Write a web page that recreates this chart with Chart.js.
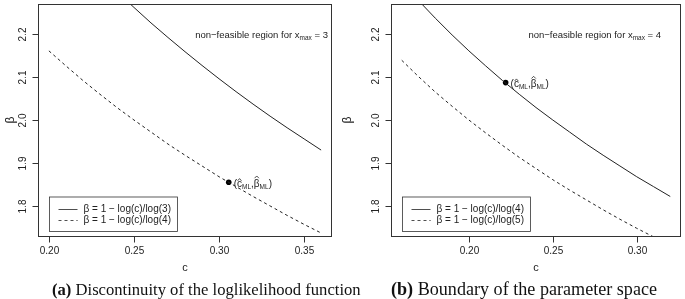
<!DOCTYPE html>
<html><head><meta charset="utf-8">
<script src="https://cdn.jsdelivr.net/npm/chart.js@4"></script>
<style>
html,body{margin:0;padding:0;background:#fff}
body{width:685px;height:299px;overflow:hidden;position:relative}
canvas{position:absolute;top:0}
#ca{left:0}
#cb{left:342px}
.cap{position:absolute;top:281px;font-family:"Liberation Serif","Times New Roman",serif;font-size:15px;color:#111;white-space:nowrap;line-height:17px}
.cap b{font-weight:bold}
</style></head><body>
<canvas id="ca" width="342" height="299"></canvas>
<canvas id="cb" width="343" height="299"></canvas>
<div class="cap" id="capA"><b>(a)</b> Discontinuity of the loglikelihood function</div>
<div class="cap" id="capB"><b>(b)</b> Boundary of the parameter space</div>
<script>
// ---------- data ----------
const cA = [0.20,0.21,0.22,0.23,0.24,0.25,0.26,0.27,0.28,0.29,0.30,0.31,0.32,0.33,0.34,0.35,0.36];
const betaLog3 = [2.465,2.421,2.378,2.338,2.299,2.262,2.226,2.192,2.159,2.127,2.096,2.066,2.037,2.009,1.982,1.956,1.930];
const betaLog4A = [2.161,2.126,2.092,2.060,2.029,2.000,1.972,1.944,1.918,1.893,1.868,1.845,1.822,1.800,1.778,1.757,1.737];
const cB = [0.16,0.17,0.18,0.19,0.20,0.21,0.22,0.23,0.24,0.25,0.26,0.27,0.28,0.29,0.30,0.31,0.32];
const betaLog4B = [2.322,2.278,2.237,2.198,2.161,2.126,2.092,2.060,2.029,2.000,1.972,1.944,1.918,1.893,1.868,1.845,1.822];
const betaLog5 = [2.139,2.101,2.065,2.032,2.000,1.970,1.941,1.913,1.887,1.861,1.837,1.814,1.791,1.769,1.748,1.728,1.708];
const mlPointA = [0.3057, 1.855];
const mlPointB = [0.2219, 2.087];
const xLimA = [0.1936, 0.3664];
const xLimB = [0.1536, 0.3264];
const yLim = [1.73, 2.27];
const xTicksA = [0.20, 0.25, 0.30, 0.35];
const xTicksB = [0.20, 0.25, 0.30];
const yTicks = [1.8, 1.9, 2.0, 2.1, 2.2];
const xTickLabelsA = ["0.20","0.25","0.30","0.35"];
const xTickLabelsB = ["0.20","0.25","0.30"];
const yTickLabels = ["1.8","1.9","2.0","2.1","2.2"];
const legendA = ["β = 1 − log(c)/log(3)", "β = 1 − log(c)/log(4)"];
const legendB = ["β = 1 − log(c)/log(4)", "β = 1 − log(c)/log(5)"];
const xmaxA = "3", xmaxB = "4";
const notePosA = [0.325, 2.2];
const notePosB = [0.275, 2.2];

// ---------- drawing helpers ----------
const SANS = '"Liberation Sans", Arial, Helvetica, sans-serif';
const INK = '#222';
function pts(xs, ys){ return xs.map((x,i)=>({x:x, y:ys[i]})); }

function drawNote(ctx, cx, cy, val){
  const parts = [
    {t:'non\u2212feasible region for x', f:9.5, dy:0},
    {t:'max', f:6.5, dy:2.5},
    {t:' = ' + val, f:9.5, dy:0}
  ];
  let w = 0;
  parts.forEach(p=>{ ctx.font = p.f+'px '+SANS; p.w = ctx.measureText(p.t).width; w += p.w; });
  let x = cx - w/2;
  ctx.textAlign='left'; ctx.textBaseline='alphabetic';
  parts.forEach(p=>{ ctx.font = p.f+'px '+SANS; ctx.fillText(p.t, x, cy+3.5+p.dy); x += p.w; });
}

function hat(ctx, x, w, topY){
  ctx.beginPath();
  ctx.moveTo(x + w*0.12, topY+2.2);
  ctx.lineTo(x + w*0.5, topY);
  ctx.lineTo(x + w*0.88, topY+2.2);
  ctx.lineWidth = 0.8; ctx.strokeStyle = INK; ctx.stroke();
}

function drawML(ctx, x, cy){
  const base = cy + 3.5;
  const parts = [
    {t:'(', f:10, dy:0},
    {t:'c', f:10, dy:0, hat:base-8.2},
    {t:'ML', f:6.5, dy:2},
    {t:',', f:10, dy:0},
    {t:'\u03B2', f:10, dy:0, hat:base-10.8},
    {t:'ML', f:6.5, dy:2},
    {t:')', f:10, dy:0}
  ];
  ctx.textAlign='left'; ctx.textBaseline='alphabetic';
  parts.forEach(p=>{
    ctx.font = p.f+'px '+SANS;
    const w = ctx.measureText(p.t).width;
    ctx.fillText(p.t, x, base+p.dy);
    if (p.hat !== undefined) hat(ctx, x, w, p.hat);
    x += w;
  });
}

function rPlugin(cfg){
  return {
    id:'rbase',
    afterDraw(chart){
      const ctx = chart.ctx, a = chart.chartArea;
      const xs = chart.scales.x, ys = chart.scales.y;
      ctx.save();
      ctx.fillStyle = INK; ctx.strokeStyle = '#333'; ctx.lineWidth = 1;
      const L = Math.round(a.left)+0.5, R = Math.round(a.right)-0.5;
      const T = Math.round(a.top)+0.5, B = Math.round(a.bottom)+0.5;
      // box
      ctx.strokeRect(L, T, R-L, B-T);
      // x axis ticks
      ctx.font = '10px '+SANS; ctx.textAlign='center'; ctx.textBaseline='middle';
      cfg.xTicks.forEach((v,i)=>{
        const px = Math.round(xs.getPixelForValue(v))+0.5;
        ctx.beginPath(); ctx.moveTo(px, B); ctx.lineTo(px, B+6); ctx.stroke();
        ctx.fillText(cfg.xLabels[i], px, B+15);
      });
      // y axis ticks
      cfg.yTicks.forEach((v,i)=>{
        const py = Math.round(ys.getPixelForValue(v))+0.5;
        ctx.beginPath(); ctx.moveTo(L-6, py); ctx.lineTo(L, py); ctx.stroke();
        ctx.save(); ctx.translate(L-15, py); ctx.rotate(-Math.PI/2);
        ctx.fillText(cfg.yLabels[i], 0, 0); ctx.restore();
      });
      // axis titles
      ctx.font = '11px '+SANS;
      ctx.fillText('c', (a.left+a.right)/2, 268);
      ctx.save(); ctx.translate(cfg.betaX, (a.top+a.bottom)/2); ctx.rotate(-Math.PI/2);
      ctx.font = '12px '+SANS; ctx.fillText('\u03B2', 0, 0); ctx.restore();
      // note
      drawNote(ctx, xs.getPixelForValue(cfg.note[0]), ys.getPixelForValue(cfg.note[1]), cfg.xmax);
      // ML label
      const mx = xs.getPixelForValue(cfg.ml[0]), my = ys.getPixelForValue(cfg.ml[1]);
      drawML(ctx, mx+5, my+1);
      // legend
      ctx.font = '10px '+SANS;
      const tw = Math.max(...cfg.legend.map(s=>ctx.measureText(s).width));
      const bl = Math.round(a.left)+11.5, bb = Math.round(a.bottom)-4.5, bh = 34.5;
      const bt = bb - bh;
      const tx = bl + 34;
      const br = Math.round(tx + tw + 6)+0.5;
      ctx.fillStyle = '#fff'; ctx.fillRect(bl, bt, br-bl, bh);
      ctx.strokeStyle = '#333'; ctx.strokeRect(bl, bt, br-bl, bh);
      ctx.fillStyle = INK; ctx.textAlign='left'; ctx.textBaseline='middle';
      cfg.legend.forEach((s,i)=>{
        const yy = Math.round(bt + 11.5 + i*11)+0.5;
        ctx.beginPath(); ctx.strokeStyle = INK;
        ctx.setLineDash(i===0 ? [] : [3,3]);
        ctx.moveTo(bl+9, yy); ctx.lineTo(bl+28, yy); ctx.stroke();
        ctx.setLineDash([]);
        ctx.fillText(s, tx, yy);
      });
      ctx.restore();
    }
  };
}

function makeChart(id, d){
  return new Chart(document.getElementById(id), {
    type:'scatter',
    data:{datasets:[
      {label:d.legend[0], data:d.solid, showLine:true, borderColor:INK, borderWidth:1, pointRadius:0, fill:false},
      {label:d.legend[1], data:d.dashed, showLine:true, borderColor:INK, borderWidth:1, borderDash:[3,3], pointRadius:0, fill:false},
      {label:'ML', data:[{x:d.ml[0], y:d.ml[1]}], pointRadius:2.8, pointBackgroundColor:'#000', pointBorderWidth:0, showLine:false}
    ]},
    options:{
      responsive:false, animation:false, events:[],
      layout:{padding:d.pad},
      plugins:{legend:{display:false}, tooltip:{enabled:false}},
      scales:{
        x:{type:'linear', min:d.xLim[0], max:d.xLim[1], display:false},
        y:{type:'linear', min:yLim[0], max:yLim[1], display:false}
      }
    },
    plugins:[rPlugin(d)]
  });
}

makeChart('ca', {
  solid:pts(cA, betaLog3), dashed:pts(cA, betaLog4A), ml:mlPointA, xLim:xLimA,
  legend:legendA, xTicks:xTicksA, xLabels:xTickLabelsA, yTicks:yTicks, yLabels:yTickLabels,
  note:notePosA, xmax:xmaxA, betaX:11,
  pad:{left:38, right:10, top:0, bottom:63}
});
makeChart('cb', {
  solid:pts(cB, betaLog4B), dashed:pts(cB, betaLog5), ml:mlPointB, xLim:xLimB,
  legend:legendB, xTicks:xTicksB, xLabels:xTickLabelsB, yTicks:yTicks, yLabels:yTickLabels,
  note:notePosB, xmax:xmaxB, betaX:6,
  pad:{left:49, right:1, top:0, bottom:63}
});

// captions: fit to measured width in the figure
function fitCap(id, left, width){
  const el = document.getElementById(id);
  el.style.left = left+'px';
  const w = el.getBoundingClientRect().width;
  const fs = 15 * width / w;
  el.style.fontSize = fs.toFixed(2)+'px';
}
fitCap('capA', 52, 309);
fitCap('capB', 391, 266);
</script>
</body></html>
